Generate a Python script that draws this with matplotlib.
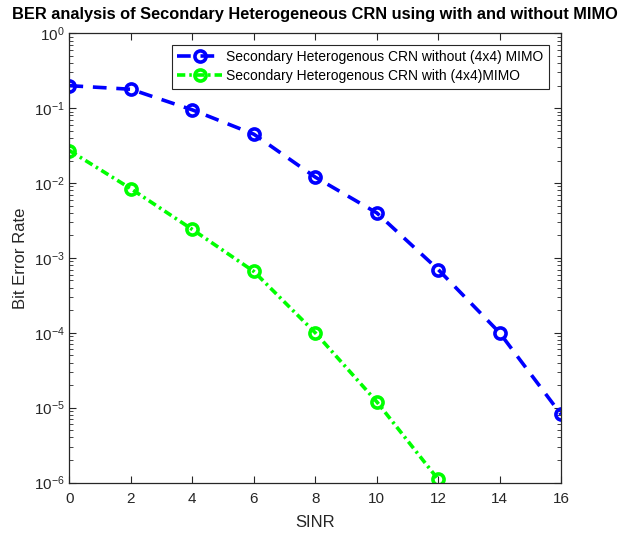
import numpy as np
import matplotlib.pyplot as plt
from matplotlib.ticker import LogLocator, NullFormatter

plt.rcParams['font.family'] = ['Liberation Sans', 'DejaVu Sans']

sinr = [0, 2, 4, 6, 8, 10, 12, 14, 16]
ber_without = [0.2, 0.179, 0.095, 0.045, 0.012, 0.004, 0.0007, 1.0e-4, 8.1e-6]
sinr_with = [0, 2, 4, 6, 8, 10, 12]
ber_with = [0.0272, 0.0084, 0.0024, 0.00066, 1.0e-4, 1.2e-5, 1.1e-6]

label_without = 'Secondary Heterogenous CRN without (4x4) MIMO'
label_with = 'Secondary Heterogenous CRN with (4x4)MIMO'

axcol = '#262626'

fig = plt.figure(figsize=(6.2, 5.36), dpi=100)
ax = fig.add_axes([0.112, 0.0998, 0.793, 0.838])

ax.semilogy(sinr, ber_without, color='#0000ff', ls=(0, (3.8, 2.7)), marker='o',
            lw=2.6, ms=8, mfc='none', mew=2.6, label=label_without)
ax.semilogy(sinr_with, ber_with, color='#00ff00', ls=(0, (2.3, 1.1, 0.7, 1.1)), marker='o',
            lw=2.6, ms=8, mfc='none', mew=2.6, label=label_with)

ax.set_xlim(0, 16)
ax.set_ylim(1e-6, 1)
ax.set_xticks(np.arange(0, 17, 2))
ax.yaxis.set_major_locator(LogLocator(base=10, numticks=10))
ax.yaxis.set_minor_locator(LogLocator(base=10, subs=np.arange(2, 10), numticks=20))
ax.yaxis.set_minor_formatter(NullFormatter())

ax.tick_params(which='both', direction='in', top=True, right=True,
               colors=axcol, labelsize=11)
ax.tick_params(axis='x', pad=7)
ax.tick_params(which='major', length=5, width=0.8)
ax.tick_params(which='minor', length=3, width=0.6)
for s in ax.spines.values():
    s.set_color(axcol)
    s.set_linewidth(0.9)

ax.set_xlabel('SINR', fontsize=12, color=axcol, labelpad=6)
ax.set_ylabel('Bit Error Rate', fontsize=12, color=axcol, labelpad=4)
ax.set_title('BER analysis of Secondary Heterogeneous CRN using with and without MIMO',
             fontsize=11.8, fontweight='bold', pad=10)

leg = ax.legend(loc='upper right', bbox_to_anchor=(0.975, 0.975), fontsize=10,
                fancybox=False, framealpha=1, edgecolor=axcol,
                handlelength=3.2, borderpad=0.4, labelspacing=0.35,
                handletextpad=0.3, borderaxespad=0)
leg.get_frame().set_linewidth(0.8)

fig.savefig('out.png', dpi=100)
